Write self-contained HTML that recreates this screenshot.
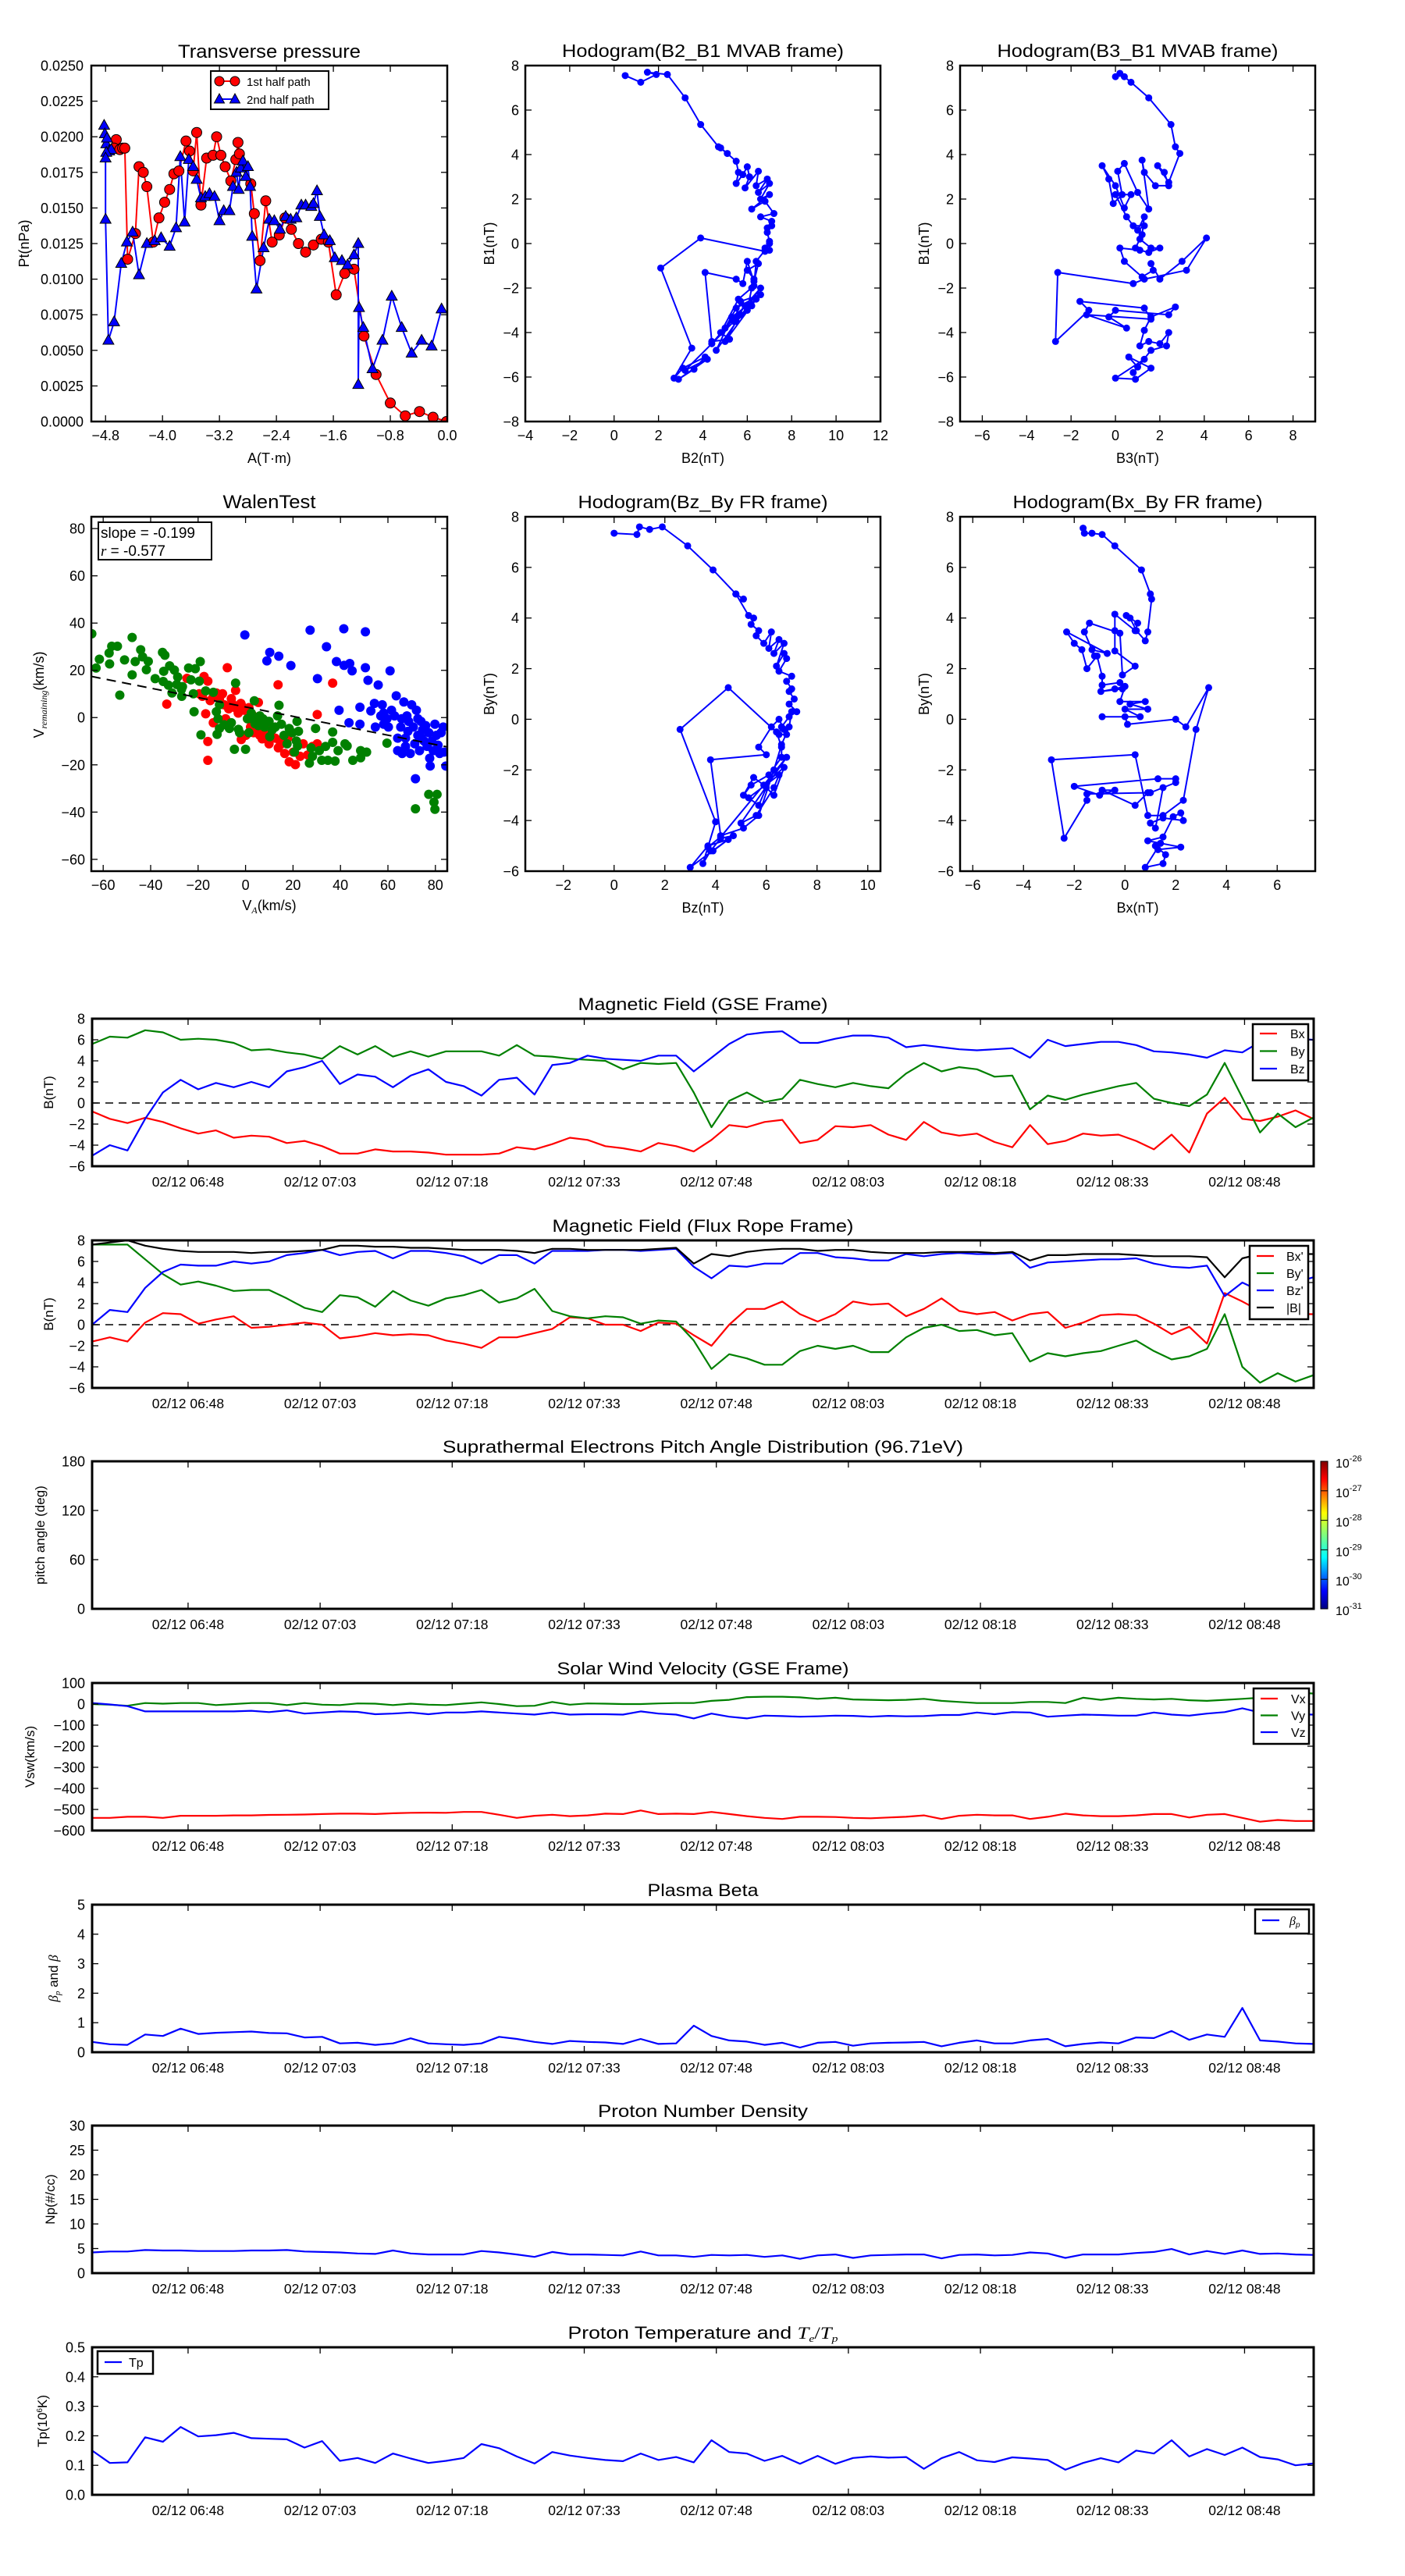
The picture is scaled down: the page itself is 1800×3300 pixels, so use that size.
<!DOCTYPE html>
<html><head><meta charset="utf-8"><title>Flux rope analysis</title>
<style>
html,body{margin:0;padding:0;background:#fff;}
svg{display:block;font-family:"Liberation Sans","DejaVu Sans",sans-serif;}
</style></head>
<body>
<svg id="fig" width="1800" height="3300" viewBox="0 0 1800 3300" xmlns="http://www.w3.org/2000/svg">
<rect x="0" y="0" width="1800" height="3300" fill="#fff"/>
<defs>
<linearGradient id="jet" x1="0" y1="1" x2="0" y2="0">
<stop offset="0" stop-color="#00007f"/><stop offset="0.12" stop-color="#0000ff"/><stop offset="0.35" stop-color="#00ffff"/>
<stop offset="0.5" stop-color="#7fff7f"/><stop offset="0.65" stop-color="#ffff00"/><stop offset="0.88" stop-color="#ff0000"/><stop offset="1" stop-color="#7f0000"/>
</linearGradient>
</defs>
</svg>
<script>
// ---------- Transverse pressure ----------
const ptRedA=[-4.65,-4.68,-4.60,-4.56,-4.53,-4.49,-4.38,-4.33,-4.27,-4.22,-4.13,-4.05,-3.97,-3.90,-3.84,-3.77,-3.67,-3.62,-3.57,-3.52,-3.46,-3.38,-3.29,-3.24,-3.18,-3.12,-3.04,-2.97,-2.94,-2.92,-2.76,-2.71,-2.63,-2.55,-2.46,-2.36,-2.28,-2.19,-2.09,-1.99,-1.88,-1.77,-1.67,-1.56,-1.44,-1.31,-1.17,-1.00,-0.80,-0.59,-0.39,-0.20,-0.01];
const ptRedP=[0.0198,0.0192,0.0191,0.0192,0.0192,0.0114,0.0132,0.0179,0.0175,0.0165,0.0126,0.0143,0.0154,0.0163,0.0174,0.0176,0.0197,0.0190,0.0176,0.0203,0.0152,0.0185,0.0187,0.0200,0.0187,0.0179,0.0169,0.0184,0.0196,0.0188,0.0167,0.0146,0.0113,0.0155,0.0126,0.0131,0.0143,0.0135,0.0125,0.0119,0.0124,0.0128,0.0126,0.0089,0.0104,0.0107,0.0060,0.0033,0.0013,0.0004,0.0007,0.0003,0.0000];
const ptBlueA=[-4.79,-4.82,-4.81,-4.78,-4.75,-4.72,-4.79,-4.80,-4.80,-4.76,-4.68,-4.58,-4.50,-4.42,-4.33,-4.22,-4.11,-4.02,-3.90,-3.81,-3.75,-3.69,-3.63,-3.57,-3.52,-3.46,-3.40,-3.34,-3.27,-3.20,-3.14,-3.06,-3.01,-2.96,-2.93,-2.90,-2.87,-2.83,-2.80,-2.77,-2.74,-2.68,-2.58,-2.50,-2.43,-2.35,-2.27,-2.20,-2.12,-2.05,-1.99,-1.91,-1.88,-1.83,-1.79,-1.73,-1.65,-1.58,-1.48,-1.40,-1.31,-1.25,-1.25,-1.24,-1.18,-1.05,-0.91,-0.78,-0.64,-0.50,-0.36,-0.22,-0.08];
const ptBlueP=[0.0195,0.0208,0.0202,0.0199,0.0190,0.0191,0.0189,0.0185,0.0142,0.0057,0.0070,0.0111,0.0126,0.0133,0.0103,0.0125,0.0127,0.0129,0.0123,0.0136,0.0186,0.0140,0.0184,0.0179,0.0170,0.0157,0.0158,0.0160,0.0158,0.0141,0.0148,0.0148,0.0165,0.0175,0.0163,0.0178,0.0183,0.0172,0.0179,0.0165,0.0130,0.0093,0.0122,0.0142,0.0141,0.0135,0.0144,0.0142,0.0143,0.0152,0.0152,0.0151,0.0153,0.0162,0.0144,0.0131,0.0127,0.0115,0.0113,0.0110,0.0117,0.0125,0.0026,0.0080,0.0066,0.0037,0.0057,0.0088,0.0066,0.0048,0.0057,0.0053,0.0079];
const ptXTicks=[-4.8,-4.0,-3.2,-2.4,-1.6,-0.8,0.0];
const ptXTickLabels=["\u22124.8","\u22124.0","\u22123.2","\u22122.4","\u22121.6","\u22120.8","0.0"];
const ptYTicks=[0,0.0025,0.005,0.0075,0.01,0.0125,0.015,0.0175,0.02,0.0225,0.025];
const ptYTickLabels=["0.0000","0.0025","0.0050","0.0075","0.0100","0.0125","0.0150","0.0175","0.0200","0.0225","0.0250"];

// ---------- Hodogram B2_B1 ----------
const h1X=[0.5,1.2,1.9,1.5,2.4,3.2,3.9,4.7,5.1,4.8,5.5,5.6,5.5,5.8,6.0,6.1,5.9,6.5,6.4,6.9,6.5,7.0,6.6,7.0,6.2,6.8,7.2,6.6,7.1,6.9,7.1,6.9,7.0,6.8,7.0,6.8,3.9,2.1,3.5,2.7,3.1,4.1,3.6,2.9,4.2,3.2,4.4,6.6,4.6,5.3,6.4,5.0,5.5,6.2,5.7,4.4,5.0,5.5,6.6,5.7,5.4,5.9,6.0,6.2,6.3,6.0,6.5,6.3,6.0,5.8,5.5,4.1,4.4,5.2,4.8,5.6,6.3,6.4,6.8,7.0];
const h1Y=[7.55,7.25,7.6,7.7,7.6,6.55,5.35,4.35,4.05,4.3,3.7,3.2,2.7,3.1,3.45,3.0,2.5,3.25,2.6,2.9,2.3,2.7,2.0,2.2,1.55,1.9,1.35,1.2,1.0,0.7,0.8,0.5,0.1,-0.2,-0.3,-0.35,0.25,-1.1,-4.7,-6.05,-5.6,-5.1,-5.65,-6.1,-5.2,-5.7,-4.5,-2.0,-4.8,-3.3,-2.5,-4.4,-3.5,-2.8,-3.2,-4.5,-3.8,-2.9,-2.3,-2.6,-3.5,-2.8,-3.0,-2.0,-1.6,-1.2,-0.9,-1.7,-0.8,-1.8,-1.6,-1.3,-4.4,-4.3,-4.0,-2.5,-1.9,-0.8,-0.3,0.0];

// ---------- Hodogram B3_B1 ----------
const h2X=[0.0,0.2,0.4,0.7,1.5,2.5,2.7,2.9,2.4,1.9,2.2,2.4,1.8,1.3,1.2,1.5,1.0,0.4,0.1,0.3,-0.1,-0.3,-0.6,0.0,0.4,0.7,0.0,0.5,0.8,1.3,1.0,1.3,1.2,0.9,1.1,1.6,2.0,1.5,1.1,0.2,0.4,1.2,1.7,1.6,2.0,3.0,4.1,3.2,1.3,0.8,-2.6,-2.7,-1.2,-1.6,1.3,1.6,-1.3,0.5,-0.3,0.0,2.4,2.7,1.6,1.3,1.1,1.5,2.0,2.4,2.3,1.6,1.0,0.6,1.6,0.9,0.0,1.3,0.8];
const h2Y=[7.5,7.65,7.5,7.25,6.55,5.35,4.35,4.05,2.75,3.5,3.2,2.6,2.6,3.2,3.75,1.55,2.3,3.6,3.25,2.2,1.8,2.9,3.5,2.6,1.6,2.2,2.2,1.2,0.8,0.8,0.6,1.2,0.4,-0.2,0.2,-0.2,-0.2,-0.4,-0.3,-0.2,-0.8,-1.5,-1.2,-0.9,-1.6,-0.8,0.25,-1.2,-1.6,-1.8,-1.3,-4.4,-3.0,-2.6,-2.9,-3.4,-3.2,-3.8,-3.3,-3.0,-3.2,-2.85,-3.3,-3.9,-4.6,-4.4,-4.5,-4.0,-4.6,-4.8,-5.55,-5.1,-5.6,-6.1,-6.05,-5.2,-5.8];

// ---------- Walen test ----------
const walenSlope=-0.199, walenIntercept=4.5;
const wRedX=[-33.2,-24.7,-17.5,-15.9,-19.5,-18.2,-14.9,-13.6,-12.3,-11,-9.7,-9,-7.7,-7.1,-5.7,-4.4,-4.2,-3.1,-1.8,-0.5,0.8,1.4,2.1,2.7,3.4,4,5.4,6,6.7,8,9.3,9.9,11.2,12.5,13.7,13.8,15.1,16.5,17.8,18.4,20.1,21,23,24.3,26.2,28.2,30.2,30.2,36.7,-16.8,-15.9,-15.9,-13.6,-8.4,-1.8,0.1,-6,-2,4.5,7,10.5,14.5];
const wRedY=[5.7,16.6,17.4,15.4,10.1,9,7.2,9,10.4,7.8,10.1,5.4,21.1,3.7,6,4.2,11.5,1.9,5.4,3.1,-0.5,4.2,-4,1.3,-6.4,-1.6,6.4,-7.5,-4.6,-8.7,-6.4,-11.1,-4,-8.7,13.9,-12.8,-11.1,-15.2,-8.7,-18.7,-14.6,-19.9,-16.4,-11.1,-15.8,-12.2,1.3,-11.1,14.6,1.6,-10.1,-18.1,-2.2,-0.5,-9.3,-7.5,8,6,-5,-9,-6,-10];
const wGreenX=[-64.8,-63,-61.6,-57.5,-57.3,-56.4,-54,-53,-51,-47.8,-47.8,-46.5,-44.2,-43.4,-41,-41.8,-38.1,-35,-34,-34.5,-34.7,-32,-32.5,-31,-30,-28.6,-26.9,-26.6,-24,-22,-21.7,-21.2,-19.5,-19.1,-18.8,-16.8,-13.6,-12.3,-11.6,-11,-11,-12,-6.8,-6,-4.7,-4.2,-2.5,0,0.8,1.4,2.4,3.7,4.7,6,7.3,8,8.9,10.2,12.5,13.5,14.1,15.1,16.2,17.5,18.4,19.7,20.6,21.4,21.7,22.3,21.9,26.9,27.6,28.2,29.5,31.1,32.1,33.7,34.7,36.7,36.7,37.7,39,41.9,42.8,45.2,48.5,48.5,51,59.6,71.6,77.2,79.4,79.8,80.7,2.7,4,5.4,6.7,9.9,11.2,-29,-27,-23,-9,-3];
const wGreenY=[35.5,21,24.7,27.3,22.7,30.2,30.2,9.5,24.4,33.9,18.1,23.7,28.7,25.7,23.8,20.3,16.5,27.6,26.4,19.6,15.3,21.9,13.7,10.4,20.1,17.2,9,13.1,21,10.1,2.5,20.7,15.4,23.7,-7.3,11.3,10.7,2.5,-0.5,5.4,-4.6,-7.1,-4.6,-2.2,-13.4,14.6,-6.4,-13.4,-0.5,-6.4,1.9,7.1,-1.6,0.7,-0.5,-4,-1.6,-8.1,-4,0.7,5.2,-2.8,-7.5,-11.1,-4.6,-6.4,-14.6,-9.9,-1.6,-5.8,-12,-19.3,-12.8,-16.4,-4.6,-14,-18.1,-12.2,-18.1,-6.1,-10.5,-18.4,-14,-11.1,-12,-18.1,-14,-17,-14.6,-10.8,-38.6,-32.5,-35.8,-38.8,-32.5,-0.5,-2.6,-3.4,-1.6,-1.6,-5.2,14,12,16,-3,-5];
const wBlueX=[-0.3,9,10.2,14,19.1,27.2,30.3,34.1,38.3,39.4,41.4,41.5,43.9,44.9,43.6,48.2,48.2,50.5,50.5,51.6,52.8,54.3,54.7,55.9,57.6,58.2,59.6,60.2,60.9,61.5,62.8,63.5,64.1,64.1,65.4,66,66.7,67.4,67.4,68,68.7,69.4,70,70.7,71.3,71.6,72,72.6,73.3,73.9,74.6,75.2,75.9,76.5,77.2,77.6,77.8,78.5,79.1,79.8,80.4,81.1,81.8,82.4,83.3,83.7,84.4,65.8,68.4,72.6,74.2,58.2,57];
const wBlueY=[35,24,27.6,26,22,37,16.5,30,23.7,3.1,37.6,22.1,22.9,19.8,-2.2,4.4,-2.8,36.3,21.1,15.8,2.8,6,-4,13.8,5.4,1.9,-0.5,-4,19.8,3.1,0.7,9.2,-8.7,-14,-4,-15.2,6.6,-8.7,-12.2,0.7,-1.6,-15.2,5.4,-4,-11.1,-25.9,3.1,-7.5,-14,-1.6,-5.2,-9.9,-3.4,-12.2,-6.4,-17.2,-20.5,-9.9,-14,-2.8,-7.5,-11.7,-15.2,-6.4,-4,-14.6,-20.5,-0.5,-5.8,-0.5,-8.7,-2.8,0.7];
const wTicks=[-60,-40,-20,0,20,40,60,80];

// ---------- Hodogram Bz_By (FR) ----------
const h3X=[0.0,0.9,1.0,1.4,1.9,2.9,3.9,4.8,5.1,4.8,5.3,5.5,5.4,5.7,5.6,5.9,6.2,6.1,6.5,6.3,6.7,6.4,6.7,6.8,6.5,7.0,6.8,7.0,6.9,7.1,6.9,7.2,6.9,6.6,6.8,6.5,4.5,2.6,4.0,3.5,3.8,4.2,4.7,3.0,3.7,4.5,3.9,3.7,4.2,6.8,5.0,5.6,6.3,6.5,5.3,5.7,6.0,6.3,6.7,5.9,5.5,5.1,5.4,6.1,6.6,6.6,6.4,6.7,6.5,6.2,5.7,6.0,3.8,4.2,5.1,5.7,6.3,6.6,6.9,7.0];
const h3Y=[7.35,7.3,7.6,7.5,7.6,6.85,5.9,4.95,4.75,4.95,4.1,4.0,3.75,3.5,3.3,3.0,3.45,2.8,3.15,2.6,3.0,2.1,2.6,2.4,1.9,1.7,1.5,1.2,1.1,0.8,0.6,0.3,0.1,-0.3,-0.6,-0.6,1.25,-0.4,-4.05,-5.7,-5.2,-4.7,-4.6,-5.85,-5.0,-4.75,-5.2,-5.05,-4.65,-1.5,-4.1,-3.8,-2.7,-2.2,-3.1,-3.4,-2.7,-3.0,-1.9,-2.6,-2.3,-3.0,-2.6,-2.2,-1.5,-1.1,-0.5,-0.4,0.0,-0.3,-1.1,-1.4,-1.6,-4.6,-4.3,-3.8,-2.0,-1.0,-0.3,0.3];

// ---------- Hodogram Bx_By (FR) ----------
const h4X=[-1.65,-1.6,-1.3,-0.9,-0.4,0.65,1.0,1.05,0.9,0.8,0.45,0.2,0.05,0.5,0.4,-0.4,-0.4,-0.4,0.4,-0.1,-0.2,-1.4,-1.6,-1.2,-1.3,-0.7,-2.3,-2.0,-1.7,-1.5,-1.1,-0.9,-0.9,-0.2,-0.1,-0.95,-0.4,0.0,-0.2,0.8,0.2,0.9,0.0,0.6,-0.9,0.0,0.1,2.0,2.4,3.3,2.8,2.3,1.5,0.9,0.4,-2.9,-2.4,-1.5,-1.5,0.9,0.4,-0.9,-0.4,-1.0,-2.0,1.3,2.0,2.0,1.0,1.5,1.2,1.0,1.5,2.3,2.2,1.9,1.5,0.9,2.2,1.3,1.2,1.6,1.5,0.8,1.4];
const h4Y=[7.55,7.35,7.35,7.3,6.85,5.9,4.95,4.75,3.45,3.1,3.5,4.0,4.1,3.8,3.5,4.15,3.5,2.7,2.1,1.75,3.4,3.8,3.45,2.5,2.75,2.6,3.45,3.0,2.75,2.0,2.5,1.7,1.35,1.45,1.2,1.1,1.2,1.3,0.7,0.7,0.6,0.4,0.4,0.1,0.1,0.1,-0.2,0.0,-0.3,1.25,-0.4,-3.2,-3.8,-3.8,-1.4,-1.6,-4.7,-3.2,-2.95,-2.9,-3.4,-2.8,-2.8,-3.0,-2.65,-2.35,-2.35,-2.5,-2.9,-2.7,-4.3,-4.1,-3.9,-4.0,-3.7,-3.85,-4.65,-4.8,-5.05,-5.15,-5.0,-5.35,-5.7,-5.85,-4.9];

// ---------- Time series (2-min cadence from 06:37) ----------
const tStart=-10.9, tStep=2.01; // minutes relative to 02/12 06:48
const timeTicks=[0,15,30,45,60,75,90,105,120];
const timeTickLabels=["02/12 06:48","02/12 07:03","02/12 07:18","02/12 07:33","02/12 07:48","02/12 08:03","02/12 08:18","02/12 08:33","02/12 08:48"];

const gseBx=[-0.8,-1.5,-1.9,-1.4,-1.8,-2.4,-2.9,-2.6,-3.3,-3.1,-3.2,-3.8,-3.6,-4.1,-4.8,-4.8,-4.4,-4.6,-4.6,-4.7,-4.9,-4.9,-4.9,-4.8,-4.2,-4.4,-3.9,-3.3,-3.5,-4.1,-4.3,-4.6,-3.8,-4.1,-4.6,-3.5,-2.1,-2.3,-1.8,-1.6,-3.8,-3.5,-2.2,-2.3,-2.1,-3.0,-3.5,-1.8,-2.8,-3.1,-2.9,-3.7,-4.2,-2.1,-3.9,-3.6,-2.9,-3.1,-3.0,-3.6,-4.4,-3.0,-4.7,-1.0,0.5,-1.5,-1.7,-1.3,-0.7,-1.5];
const gseBy=[5.6,6.3,6.2,6.9,6.7,6.0,6.1,6.0,5.7,5.0,5.1,4.8,4.6,4.2,5.4,4.6,5.4,4.4,4.9,4.4,4.9,4.9,4.9,4.5,5.5,4.5,4.4,4.2,4.1,4.0,3.2,3.8,3.7,3.8,1.0,-2.3,0.2,1.0,0.1,0.4,2.2,1.8,1.5,1.9,1.6,1.4,2.8,3.8,3.0,3.4,3.2,2.5,2.6,-0.6,0.7,0.3,0.8,1.2,1.6,1.9,0.4,0.0,-0.3,0.8,3.8,0.5,-2.8,-1.0,-2.3,-1.4];
const gseBz=[-5.0,-4.0,-4.5,-1.5,1.0,2.2,1.3,1.9,1.5,2.0,1.5,3.0,3.4,4.0,1.8,2.7,2.5,1.5,2.6,3.2,2.0,1.6,0.7,2.2,2.4,0.8,3.6,3.8,4.5,4.2,4.1,4.0,4.5,4.5,3.0,4.3,5.6,6.5,6.7,6.8,5.7,5.7,6.1,6.4,6.4,6.2,5.3,5.5,5.3,5.1,5.0,5.1,5.2,4.3,6.0,5.4,5.6,5.8,5.8,5.5,4.9,4.8,4.6,4.3,5.0,4.8,5.8,6.0,6.1,6.0];

const frBx=[-1.6,-1.2,-1.6,0.2,1.1,1.0,0.1,0.5,0.8,-0.3,-0.2,0.0,0.2,0.0,-1.3,-1.1,-0.8,-1.0,-0.9,-1.0,-1.5,-1.8,-2.2,-1.2,-1.2,-0.8,-0.4,0.7,0.6,0.0,0.0,-0.6,0.2,0.1,-1.0,-2.0,0.0,1.5,1.5,2.2,1.0,0.3,1.0,2.2,1.9,2.0,0.8,1.5,2.5,1.3,1.0,1.2,0.4,1.0,1.2,-0.3,0.2,0.9,1.0,0.9,0.1,-0.9,-0.2,-1.8,3.0,2.2,1.3,1.1,1.0,1.0];
const frBy=[7.6,7.6,7.6,6.2,4.8,3.8,4.1,3.7,3.2,3.3,3.3,2.5,1.6,1.2,2.8,2.6,1.7,3.2,2.3,1.8,2.5,2.8,3.3,2.1,2.5,3.4,1.3,0.8,0.6,0.8,0.7,0.1,0.4,0.3,-1.5,-4.2,-2.8,-3.2,-3.8,-3.8,-2.5,-2.0,-2.3,-2.0,-2.6,-2.6,-1.2,-0.3,0.0,-0.6,-0.5,-1.0,-0.8,-3.5,-2.7,-3.0,-2.7,-2.5,-2.0,-1.5,-2.5,-3.3,-3.0,-2.3,1.0,-4.0,-5.5,-4.6,-5.4,-4.8];
const frBz=[0.0,1.4,1.2,3.5,5.0,5.7,5.6,5.6,6.0,5.8,6.0,6.6,6.8,7.1,6.6,6.9,7.0,6.3,7.0,7.0,6.8,6.5,5.8,6.6,6.6,5.8,7.0,7.0,7.0,7.1,7.1,7.0,7.1,7.2,5.5,4.4,5.6,5.5,5.8,5.8,6.8,6.8,6.4,6.3,6.1,6.1,6.7,6.5,6.7,6.8,6.7,6.7,6.8,5.4,5.9,6.0,6.1,6.2,6.2,6.3,5.8,5.5,5.4,5.6,2.7,4.0,3.2,3.6,4.0,4.5];
const frBt=[7.6,7.8,8.0,7.5,7.2,7.0,6.9,6.9,6.9,6.8,6.9,6.9,7.0,7.1,7.5,7.5,7.4,7.4,7.3,7.3,7.2,7.1,7.1,7.1,7.0,6.8,7.2,7.2,7.1,7.1,7.1,7.1,7.2,7.3,5.8,6.7,6.5,6.9,7.1,7.2,7.2,7.0,7.1,7.1,6.9,6.8,6.8,6.8,6.9,6.9,6.9,6.8,6.9,6.1,6.6,6.6,6.7,6.7,6.7,6.6,6.5,6.5,6.5,6.4,4.5,6.3,6.7,6.7,6.7,6.7];

const swVx=[-540,-540,-535,-535,-540,-530,-530,-530,-528,-528,-526,-525,-524,-522,-520,-520,-522,-518,-516,-515,-516,-512,-512,-525,-540,-530,-525,-532,-528,-520,-522,-505,-522,-520,-522,-512,-522,-532,-540,-545,-535,-535,-536,-540,-542,-538,-535,-528,-545,-530,-525,-528,-528,-545,-535,-520,-528,-532,-532,-528,-522,-522,-538,-525,-522,-540,-558,-550,-555,-555];
const swVy=[0,-3,-8,5,2,5,5,-5,0,5,5,-5,5,-3,-5,3,2,-5,2,-3,-5,2,8,0,-10,-8,10,-3,3,2,0,0,3,5,5,15,20,33,35,35,32,25,30,22,20,18,20,25,15,10,5,5,5,10,10,5,30,20,30,25,22,25,18,15,20,25,30,45,55,50];
const swVz=[5,-2,-10,-35,-35,-35,-35,-35,-35,-32,-38,-30,-45,-40,-35,-37,-48,-45,-40,-48,-40,-40,-35,-40,-45,-50,-40,-50,-48,-48,-50,-35,-45,-50,-68,-45,-60,-68,-55,-57,-60,-58,-55,-56,-60,-56,-58,-57,-52,-52,-40,-48,-38,-40,-60,-55,-50,-52,-55,-55,-40,-50,-55,-45,-38,-20,-40,-45,-48,-50];

const betaP=[0.35,0.27,0.25,0.6,0.55,0.8,0.62,0.66,0.68,0.7,0.65,0.64,0.5,0.52,0.3,0.32,0.25,0.3,0.47,0.3,0.27,0.25,0.3,0.52,0.45,0.35,0.28,0.38,0.35,0.33,0.28,0.45,0.28,0.3,0.9,0.55,0.4,0.36,0.25,0.32,0.16,0.32,0.35,0.22,0.3,0.32,0.33,0.35,0.2,0.32,0.4,0.3,0.3,0.4,0.45,0.2,0.28,0.33,0.3,0.5,0.48,0.72,0.42,0.6,0.52,1.5,0.4,0.36,0.3,0.28];
const densNp=[4.2,4.4,4.4,4.7,4.6,4.6,4.5,4.5,4.5,4.6,4.6,4.7,4.4,4.3,4.2,4.0,3.9,4.6,4.0,3.8,3.8,3.8,4.5,4.2,3.8,3.3,4.3,3.8,3.8,3.7,3.6,4.4,3.6,3.6,3.3,3.7,3.6,3.7,3.3,3.6,2.9,3.6,3.8,3.1,3.6,3.7,3.8,3.8,3.0,3.7,3.8,3.6,3.7,4.2,4.0,3.1,3.8,3.8,3.8,4.1,4.3,4.9,3.8,4.5,3.9,4.6,3.9,4.0,3.8,3.7];
const tempTp=[0.15,0.108,0.11,0.195,0.18,0.23,0.198,0.202,0.21,0.192,0.19,0.188,0.16,0.182,0.115,0.125,0.108,0.14,0.123,0.108,0.115,0.125,0.172,0.158,0.13,0.106,0.145,0.133,0.125,0.118,0.114,0.14,0.118,0.128,0.11,0.185,0.145,0.14,0.115,0.132,0.105,0.132,0.105,0.125,0.13,0.126,0.128,0.088,0.124,0.145,0.117,0.111,0.127,0.123,0.118,0.085,0.108,0.124,0.11,0.15,0.14,0.185,0.13,0.155,0.135,0.16,0.128,0.12,0.1,0.106];

const colorbarLabels=["-26","-27","-28","-29","-30","-31"];

// ================= drawing =================
const NS='http://www.w3.org/2000/svg';
const svg=document.getElementById('fig');
function mk(tag,attrs,parent){const e=document.createElementNS(NS,tag);for(const k in attrs)e.setAttribute(k,attrs[k]);(parent||svg).appendChild(e);return e;}
function T(str,x,y,size,anchor,parent,opts){
  opts=opts||{};
  const e=mk('text',{x:x,y:y,'font-size':size,'text-anchor':anchor||'middle',fill:'#000'},parent);
  if(opts.rot) e.setAttribute('transform','rotate(-90 '+x+' '+y+')');
  if(opts.w){e.setAttribute('textLength',opts.w);e.setAttribute('lengthAdjust','spacingAndGlyphs');}
  if(opts.italic) e.setAttribute('font-style','italic');
  e.textContent=str;return e;
}
function axes(name,l,r,t,b,xd,yd){
  const g=mk('g',{});
  
  
  const sx=v=>l+(v-xd[0])/(xd[1]-xd[0])*(r-l);
  const sy=v=>b-(v-yd[0])/(yd[1]-yd[0])*(b-t);
  return {g,sx,sy,l,r,t,b};
}
function frame(A,lw){
  const f=mk('rect',{x:A.l,y:A.t,width:A.r-A.l,height:A.b-A.t,fill:'none',stroke:'#000','stroke-width':lw||2.5},A.g);
  
  
}
function xTicks(A,vals,labels,size,off){
  vals.forEach((v,i)=>{
    const x=A.sx(v);
    const t1=mk('line',{x1:x,x2:x,y1:A.b,y2:A.b-8,stroke:'#000','stroke-width':1.3},A.g);
    
    
    const t2=mk('line',{x1:x,x2:x,y1:A.t,y2:A.t+8,stroke:'#000','stroke-width':1.3},A.g);
    
    
    const lb=T(labels[i],x,A.b+off,size,'middle',A.g);
    
    
  });
}
function yTicks(A,vals,labels,size,gap){
  vals.forEach((v,i)=>{
    const y=A.sy(v);
    const t1=mk('line',{x1:A.l,x2:A.l+8,y1:y,y2:y,stroke:'#000','stroke-width':1.3},A.g);
    
    
    const t2=mk('line',{x1:A.r,x2:A.r-8,y1:y,y2:y,stroke:'#000','stroke-width':1.3},A.g);
    
    
    const lb=T(labels[i],A.l-gap,y+size*0.36,size,'end',A.g);
    
    
  });
}
function polyline(A,xs,ys,color,w,name){
  const pts=xs.map((x,i)=>A.sx(x).toFixed(1)+','+A.sy(ys[i]).toFixed(1)).join(' ');
  const p=mk('polyline',{points:pts,fill:'none',stroke:color,'stroke-width':w,'stroke-linejoin':'round'},A.g);
  
  
  return p;
}
function clipFor(A,id){
  const cp=mk('clipPath',{id:id});
  mk('rect',{x:A.l,y:A.t,width:A.r-A.l,height:A.b-A.t},cp);
  const g=mk('g',{'clip-path':'url(#'+id+')'},A.g);
  
  
  return g;
}
function seq(a,b,s){const o=[];for(let v=a;v<=b+1e-9;v+=s)o.push(+v.toFixed(6));return o;}
function fmtInt(v){return v<0?'\u2212'+Math.abs(v):String(v);}

// ---- Panel 1: transverse pressure
(function(){
  const A=axes('transverse-pressure-chart',117,573,84,540,[-5.0,0.0],[0,0.025]);
  const pg=clipFor(A,'c1');
  const P={g:pg,sx:A.sx,sy:A.sy};
  polyline(P,ptRedA,ptRedP,'#ff0000',2,'first-half-line');
  polyline(P,ptBlueA,ptBlueP,'#0000ff',2,'second-half-line');
  ptRedA.forEach((a,i)=>{
    const c=mk('circle',{cx:A.sx(a),cy:A.sy(ptRedP[i]),r:6.5,fill:'#ff0000',stroke:'#000','stroke-width':1},pg);
    
    
  });
  ptBlueA.forEach((a,i)=>{
    const x=A.sx(a),y=A.sy(ptBlueP[i]);
    const p=mk('polygon',{points:`${x},${y-7.5} ${x-7},${y+5} ${x+7},${y+5}`,fill:'#0000ff',stroke:'#000','stroke-width':1},pg);
    
    
  });
  frame(A);
  xTicks(A,ptXTicks,ptXTickLabels,18,24);
  yTicks(A,ptYTicks,ptYTickLabels,18,10);
  const tt=T('Transverse pressure',345,74,24,'middle',A.g,{w:234});
  
  
  const xl=T('A(T\u00b7m)',345,593,18,'middle',A.g);
  
  
  const yl=T('Pt(nPa)',37,312,18,'middle',A.g,{rot:1});
  
  
  const lg=mk('g',{},A.g);
  
  
  const lb=mk('rect',{x:270,y:91,width:151,height:49,fill:'#fff',stroke:'#000','stroke-width':2},lg);
  
  
  const l1=mk('line',{x1:281,x2:301,y1:104,y2:104,stroke:'#ff0000','stroke-width':2},lg);
  
  
  [281,301].forEach(x=>{
    const c=mk('circle',{cx:x,cy:104,r:6,fill:'#ff0000',stroke:'#000','stroke-width':1},lg);
    
    
  });
  const e1=T('1st half path',316,110,15,'start',lg);
  
  
  const l2=mk('line',{x1:281,x2:301,y1:127,y2:127,stroke:'#0000ff','stroke-width':2},lg);
  
  
  [281,301].forEach(x=>{
    const p=mk('polygon',{points:`${x},${120} ${x-6.5},${132} ${x+6.5},${132}`,fill:'#0000ff',stroke:'#000','stroke-width':1},lg);
    
    
  });
  const e2=T('2nd half path',316,133,15,'start',lg);
  
  
})();

// ---- hodogram helper
function hodo(name,l,r,t,b,xd,yd,xs,ys,xt,yt,title,titleW,titleY,xlab,ylab,ylabX,id){
  const A=axes(name,l,r,t,b,xd,yd);
  const pg=clipFor(A,id);
  const P={g:pg,sx:A.sx,sy:A.sy};
  polyline(P,xs,ys,'#0000ff',2,'hodogram-path');
  xs.forEach((x,i)=>{
    const c=mk('circle',{cx:A.sx(x),cy:A.sy(ys[i]),r:4.5,fill:'#0000ff'},pg);
    
    
  });
  frame(A);
  xTicks(A,xt,xt.map(fmtInt),18,24);
  yTicks(A,yt,yt.map(fmtInt),18,8);
  const tt=T(title,(l+r)/2,titleY,23,'middle',A.g,{w:titleW});
  
  
  const xl=T(xlab,(l+r)/2,b+53,18,'middle',A.g);
  
  
  const yl=T(ylab,ylabX,(t+b)/2,18,'middle',A.g,{rot:1});
  
  
}
hodo('hodogram-b2-b1',673,1128,84,540,[-4,12],[-8,8],h1X,h1Y,seq(-4,12,2),seq(-8,8,2),'Hodogram(B2_B1 MVAB frame)',361,73,'B2(nT)','B1(nT)',633,'c2');
hodo('hodogram-b3-b1',1230,1685,84,540,[-7,9],[-8,8],h2X,h2Y,seq(-6,8,2),seq(-8,8,2),'Hodogram(B3_B1 MVAB frame)',360,73,'B3(nT)','B1(nT)',1190,'c3');
hodo('hodogram-bz-by',673,1128,662,1116,[-3.5,10.5],[-6,8],h3X,h3Y,seq(-2,10,2),seq(-6,8,2),'Hodogram(Bz_By FR frame)',320,651,'Bz(nT)','By(nT)',633,'c5');
hodo('hodogram-bx-by',1230,1685,662,1116,[-6.5,7.5],[-6,8],h4X,h4Y,seq(-6,6,2),seq(-6,8,2),'Hodogram(Bx_By FR frame)',320,651,'Bx(nT)','By(nT)',1190,'c6');

// ---- Walen test
(function(){
  const A=axes('walen-test-chart',117,573,662,1116,[-65,85],[-65,85]);
  const pg=clipFor(A,'c4');
  function pts(xs,ys,color,nm){xs.forEach((x,i)=>{
    const c=mk('circle',{cx:A.sx(x),cy:A.sy(ys[i]),r:6,fill:color},pg);
    
    
  });}
  pts(wRedX,wRedY,'#ff0000','walen-point-red');
  pts(wGreenX,wGreenY,'#008000','walen-point-green');
  pts(wBlueX,wBlueY,'#0000ff','walen-point-blue');
  const fl=mk('line',{x1:A.sx(-65),y1:A.sy(walenIntercept+walenSlope*-65),x2:A.sx(85),y2:A.sy(walenIntercept+walenSlope*85),stroke:'#000','stroke-width':2,'stroke-dasharray':'12,8'},pg);
  
  
  frame(A);
  xTicks(A,wTicks,wTicks.map(fmtInt),18,24);
  yTicks(A,wTicks,wTicks.map(fmtInt),18,8);
  const tt=T('WalenTest',345,651,24,'middle',A.g,{w:119});
  
  
  const bx=mk('rect',{x:126,y:669,width:145,height:48,fill:'#fff',stroke:'#000','stroke-width':2},A.g);
  
  
  const s1=T('slope = -0.199',129,689,19,'start',A.g);
  
  
  const s2=mk('text',{x:129,y:712,'font-size':19,fill:'#000'},A.g);
  
  
  s2.innerHTML='<tspan font-style="italic" font-family="Liberation Serif">r</tspan> = -0.577';
  const xl=mk('text',{x:345,y:1166,'font-size':18,'text-anchor':'middle',fill:'#000'},A.g);
  
  
  xl.innerHTML='V<tspan font-size="12" dy="4" font-style="italic" font-family="Liberation Serif">A</tspan><tspan dy="-4">(km/s)</tspan>';
  const yl=mk('text',{x:56,y:890,'font-size':18,'text-anchor':'middle',fill:'#000',transform:'rotate(-90 56 890)'},A.g);
  
  
  yl.innerHTML='V<tspan font-size="12" dy="4" font-style="italic" font-family="Liberation Serif">remaining</tspan><tspan dy="-4">(km/s)</tspan>';
})();

// ---- time series panels
const TL=118, TR=1683, TH=189;
const TD=[tStart, 127.85];
function tsPanel(cfg){
  const A=axes(cfg.name,TL,TR,cfg.top,cfg.top+TH,TD,cfg.yd);
  const pg=clipFor(A,cfg.id);
  const P={g:pg,sx:A.sx,sy:A.sy};
  if(cfg.zero){
    const z=mk('line',{x1:TL,x2:TR,y1:A.sy(0),y2:A.sy(0),stroke:'#000','stroke-width':1.5,'stroke-dasharray':'10,7'},pg);
    
    
  }
  cfg.series.forEach(s=>{
    const ts=s.v.map((_,i)=>tStart+i*tStep);
    polyline(P,ts,s.v,s.c,2.2,'series-'+s.n);
  });
  frame(A,3);
  xTicks(A,timeTicks,timeTickLabels,17.5,26);
  yTicks(A,cfg.yt,cfg.ytl||cfg.yt.map(fmtInt),18,9);
  const tt=T(cfg.title,(TL+TR)/2,cfg.top-11,22,'middle',A.g,{w:cfg.tw});
  
  
  if(cfg.titleHTML) tt.innerHTML=cfg.titleHTML;
  const yl=T(cfg.ylab,cfg.ylx,cfg.top+TH/2,17,'middle',A.g,{rot:1});
  
  
  if(cfg.ylabHTML) yl.innerHTML=cfg.ylabHTML;
  if(cfg.legend){
    const L=cfg.legend;
    const lg=mk('g',{},A.g);
    
    
    const r=mk('rect',{x:L.x,y:L.y,width:L.w,height:L.h,fill:'#fff',stroke:'#000','stroke-width':2.5},lg);
    
    
    L.items.forEach((it,i)=>{
      const y=L.y0+i*L.dy;
      const ln=mk('line',{x1:L.x+9,x2:L.x+31,y1:y,y2:y,stroke:it.c,'stroke-width':2.2},lg);
      
      
      const tx=T('',L.x+L.tx,y+6,16,'start',lg);
      
      
      if(it.html) tx.innerHTML=it.html; else tx.textContent=it.t;
    });
  }
  return A;
}
tsPanel({name:'magnetic-field-gse-chart',id:'t1',top:1305,yd:[-6,8],yt:seq(-6,8,2),zero:1,title:'Magnetic Field (GSE Frame)',tw:320,ylab:'B(nT)',ylx:68,
  series:[{v:gseBx,c:'#ff0000',n:'bx'},{v:gseBy,c:'#008000',n:'by'},{v:gseBz,c:'#0000ff',n:'bz'}],
  legend:{x:1605,y:1312,w:71,h:72,y0:1324,dy:22.5,tx:48,items:[{t:'Bx',c:'#ff0000',n:'bx'},{t:'By',c:'#008000',n:'by'},{t:'Bz',c:'#0000ff',n:'bz'}]}});
tsPanel({name:'magnetic-field-fr-chart',id:'t2',top:1589,yd:[-6,8],yt:seq(-6,8,2),zero:1,title:'Magnetic Field (Flux Rope Frame)',tw:386,ylab:'B(nT)',ylx:68,
  series:[{v:frBx,c:'#ff0000',n:'bx-fr'},{v:frBy,c:'#008000',n:'by-fr'},{v:frBz,c:'#0000ff',n:'bz-fr'},{v:frBt,c:'#000000',n:'btotal'}],
  legend:{x:1601,y:1596,w:75,h:94,y0:1609,dy:22,tx:47,items:[{t:"Bx'",c:'#ff0000',n:'bx-fr'},{t:"By'",c:'#008000',n:'by-fr'},{t:"Bz'",c:'#0000ff',n:'bz-fr'},{t:'|B|',c:'#000000',n:'btotal'}]}});
tsPanel({name:'pitch-angle-chart',id:'t3',top:1872,yd:[0,180],yt:[0,60,120,180],title:'Suprathermal Electrons Pitch Angle Distribution (96.71eV)',tw:667,ylab:'pitch angle (deg)',ylx:57,series:[]});
tsPanel({name:'solar-wind-velocity-chart',id:'t4',top:2156,yd:[-600,100],yt:seq(-600,100,100),title:'Solar Wind Velocity (GSE Frame)',tw:374,ylab:'Vsw(km/s)',ylx:44,
  series:[{v:swVx,c:'#ff0000',n:'vx'},{v:swVy,c:'#008000',n:'vy'},{v:swVz,c:'#0000ff',n:'vz'}],
  legend:{x:1606,y:2163,w:71,h:71,y0:2176,dy:21.5,tx:48,items:[{t:'Vx',c:'#ff0000',n:'vx'},{t:'Vy',c:'#008000',n:'vy'},{t:'Vz',c:'#0000ff',n:'vz'}]}});
tsPanel({name:'plasma-beta-chart',id:'t5',top:2440,yd:[0,5],yt:[0,1,2,3,4,5],title:'Plasma Beta',tw:142,ylab:'beta',ylx:74,
  ylabHTML:'<tspan font-style="italic" font-family="Liberation Serif">\u03b2</tspan><tspan font-size="11" dy="3" font-style="italic" font-family="Liberation Serif">p</tspan><tspan dy="-3"> and </tspan><tspan font-style="italic" font-family="Liberation Serif">\u03b2</tspan>',
  series:[{v:betaP,c:'#0000ff',n:'beta-p'}],
  legend:{x:1608,y:2446,w:69,h:31,y0:2460,dy:22,tx:44,items:[{html:'<tspan font-style="italic" font-family="Liberation Serif">\u03b2</tspan><tspan font-size="10" dy="3" font-style="italic">p</tspan>',c:'#0000ff',n:'beta-p'}]}});
tsPanel({name:'proton-density-chart',id:'t6',top:2723,yd:[0,30],yt:[0,5,10,15,20,25,30],title:'Proton Number Density',tw:269,ylab:'Np(#/cc)',ylx:70,
  series:[{v:densNp,c:'#0000ff',n:'np'}]});
tsPanel({name:'proton-temperature-chart',id:'t7',top:3007,yd:[0,0.5],yt:[0,0.1,0.2,0.3,0.4,0.5],ytl:['0.0','0.1','0.2','0.3','0.4','0.5'],title:'Proton Temperature and Te/Tp',tw:346,ylab:'Tp',ylx:60,
  titleHTML:'Proton Temperature and <tspan font-style="italic" font-family="Liberation Serif">T</tspan><tspan font-size="13" dy="4" font-style="italic" font-family="Liberation Serif">e</tspan><tspan dy="-4" font-family="Liberation Serif">/</tspan><tspan font-style="italic" font-family="Liberation Serif">T</tspan><tspan font-size="13" dy="4" font-style="italic" font-family="Liberation Serif">p</tspan>',
  ylabHTML:'Tp(10<tspan font-size="10" dy="-6">6</tspan><tspan dy="6">K)</tspan>',
  series:[{v:tempTp,c:'#0000ff',n:'tp'}],
  legend:{x:125,y:3012,w:71,h:29,y0:3026,dy:22,tx:40,items:[{t:'Tp',c:'#0000ff',n:'tp'}]}});

// ---- colorbar
(function(){
  const g=mk('g',{});
  
  
  const r=mk('rect',{x:1692,y:1872,width:9,height:189,fill:'url(#jet)',stroke:'#000','stroke-width':1},g);
  
  
  colorbarLabels.forEach((s,i)=>{
    const y=1872+i*189/5;
    const t=mk('text',{x:1711,y:y+8,'font-size':16,fill:'#000'},g);
    
    
    t.innerHTML='10<tspan font-size="11" dy="-8">'+s+'</tspan>';
    const tk=mk('line',{x1:1692,x2:1701,y1:y,y2:y,stroke:'#000','stroke-width':1},g);
    
    
  });
})();
</script>
</body></html>
